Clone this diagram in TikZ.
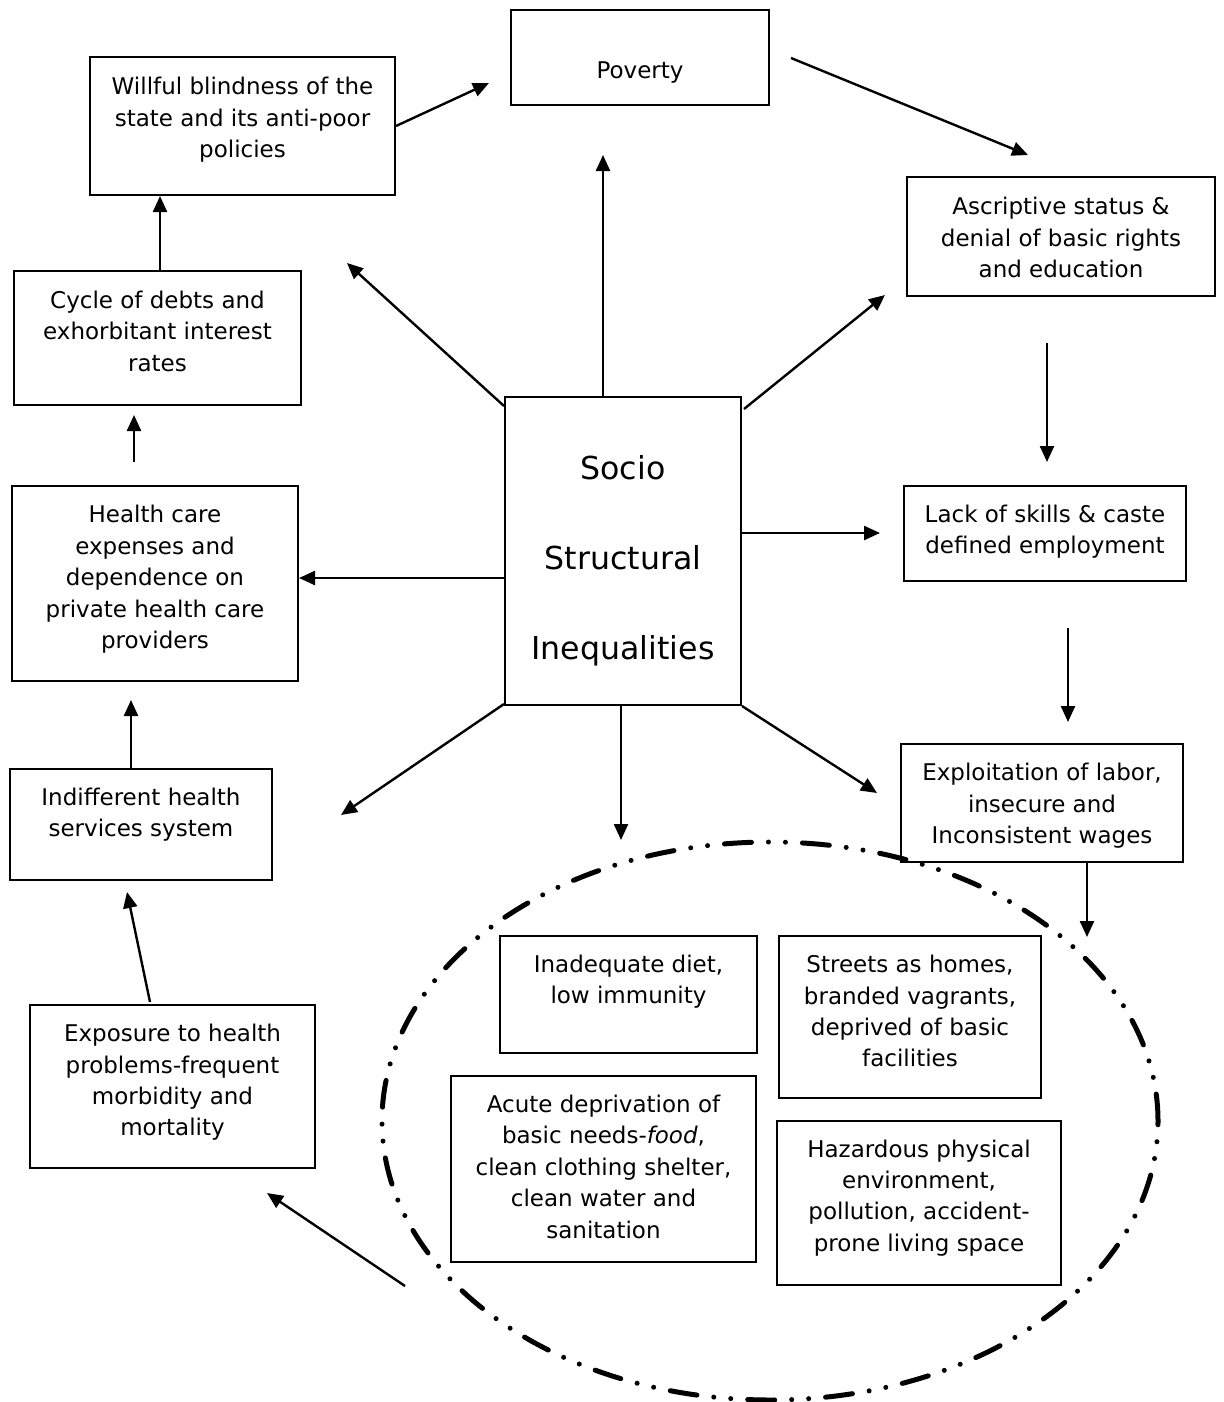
\documentclass[tikz,border=0pt]{standalone}
\usepackage{fontspec}
\setmainfont{DejaVu Sans}
\usetikzlibrary{arrows.meta,calc,shapes.geometric}
\newcommand{\boxtext}[2]{\raisebox{#1}[\height][\depth]{\begin{tabular}{@{}c@{}}#2\end{tabular}}}
\begin{document}
\begin{tikzpicture}[x=0.5pt,y=-0.5pt,
  box/.style={draw, line width=1pt, inner sep=0pt, font=\fontsize{11.5}{15.7}\selectfont},
  arr/.style={line width=1.2pt, -{Triangle[length=8pt,width=7pt]}},
  ring/.style={draw, ellipse, inner sep=0pt, line width=2.5pt, line cap=round,
    dash pattern=on 13.5pt off 8.5pt on 0pt off 8.5pt on 0pt off 8.5pt}]
\useasboundingbox (0,0) rectangle (1223,1402);

% boxes
\node[box, minimum width=129pt, minimum height=47.5pt] (pov) at (640,57.5) {\boxtext{-7.25pt}{Poverty}};
\node[box, minimum width=152.5pt, minimum height=69pt] (will) at (242.5,126) {\boxtext{3pt}{Willful blindness of the\\state and its anti-poor\\policies}};
\node[box, minimum width=154pt, minimum height=59.5pt] (asc) at (1061,236.5) {\boxtext{-1.75pt}{Ascriptive status \&\\denial of basic rights\\and education}};
\node[box, minimum width=143.5pt, minimum height=67pt] (cyc) at (157.5,338) {\boxtext{2.25pt}{Cycle of debts and\\exhorbitant interest\\rates}};
\node[box, minimum width=118pt, minimum height=154pt, font=\fontsize{15.8}{45}\selectfont] (soc) at (623,551) {\boxtext{0pt}{Socio\\Structural\\Inequalities}};
\node[box, minimum width=141pt, minimum height=47.5pt] (lack) at (1045,533.5) {\boxtext{0.75pt}{Lack of skills \& caste\\defined employment}};
\node[box, minimum width=143pt, minimum height=97.5pt] (hlth) at (155,583.5) {\boxtext{2pt}{Health care\\expenses and\\dependence on\\private health care\\providers}};
\node[box, minimum width=141pt, minimum height=59pt] (expl) at (1042,803) {\boxtext{-1.5pt}{Exploitation of labor,\\insecure and\\Inconsistent wages}};
\node[box, minimum width=131pt, minimum height=55.5pt] (ind) at (141,824.5) {\boxtext{4.75pt}{Indifferent health\\services system}};
\node[box, minimum width=142.5pt, minimum height=81.5pt] (expo) at (172.5,1086.5) {\boxtext{2pt}{Exposure to health\\problems-frequent\\morbidity and\\mortality}};
\node[box, minimum width=128.5pt, minimum height=58.5pt] (inad) at (628.5,994.5) {\boxtext{6.25pt}{Inadequate diet,\\low immunity}};
\node[box, minimum width=131pt, minimum height=81pt] (str) at (910,1017) {\boxtext{1.75pt}{Streets as homes,\\branded vagrants,\\deprived of basic\\facilities}};
\node[box, minimum width=152.5pt, minimum height=93pt] (acu) at (603.5,1169) {\boxtext{0pt}{Acute deprivation of\\basic needs-\textit{food},\\clean clothing shelter,\\clean water and\\sanitation}};
\node[box, minimum width=142pt, minimum height=82pt] (haz) at (919,1203) {\boxtext{2.5pt}{Hazardous physical\\environment,\\pollution, accident-\\prone living space}};

% dotted ring
\node[ring, minimum width=388pt, minimum height=279pt] (ell) at (770,1121) {};

% free ends
\coordinate (t1) at (489,83);
\coordinate (s2) at (791,58);
\coordinate (t2) at (1028,155);
\coordinate (t3) at (603,155);
\coordinate (t4) at (347,263);
\coordinate (t5) at (885,295);
\coordinate (s6) at (1047,343);
\coordinate (t6) at (1047,462);
\coordinate (t7) at (880,533);
\coordinate (s10) at (134,462);
\coordinate (t10) at (134,415);
\coordinate (s11) at (1068,628);
\coordinate (t11) at (1068,722);
\coordinate (t12) at (877,793);
\coordinate (t13) at (341,815);
\coordinate (t14) at (621,840);
\coordinate (t15) at (131,700);
\coordinate (t16) at (1087,937);
\coordinate (t17) at (127,892);
\coordinate (s18) at (405,1286);
\coordinate (t18) at (267,1193);

% connectors
\draw[arr] (will.east) -- (t1);
\draw[arr] (s2) -- (t2);
\draw[arr] ($(soc.north)+(-20,0)$) -- (t3);
\draw[arr] ($(soc.north west)+(0,10)$) -- (t4);
\draw[arr] ($(soc.north east)+(2,13)$) -- (t5);
\draw[arr] (s6) -- (t6);
\draw[arr] ($(soc.east)+(0,-18)$) -- (t7);
\draw[arr] ($(soc.west)+(0,27)$) -- ($(hlth.east)+(0,-5.5)$);
\draw[arr] ($(cyc.north)+(2.5,0)$) -- ($(will.south)+(-82.5,0)$);
\draw[arr] (s10) -- (t10);
\draw[arr] (s11) -- (t11);
\draw[arr] (soc.south east) -- (t12);
\draw[arr] ($(soc.south west)+(0,-2)$) -- (t13);
\draw[arr] ($(soc.south)+(-2,0)$) -- (t14);
\draw[arr] ($(ind.north)+(-10,0)$) -- (t15);
\draw[arr] ($(expl.south)+(45,0)$) -- (t16);
\draw[arr] ($(expo.north)+(-22.5,-2)$) -- (t17);
\draw[arr] (s18) -- (t18);
\end{tikzpicture}
\end{document}
